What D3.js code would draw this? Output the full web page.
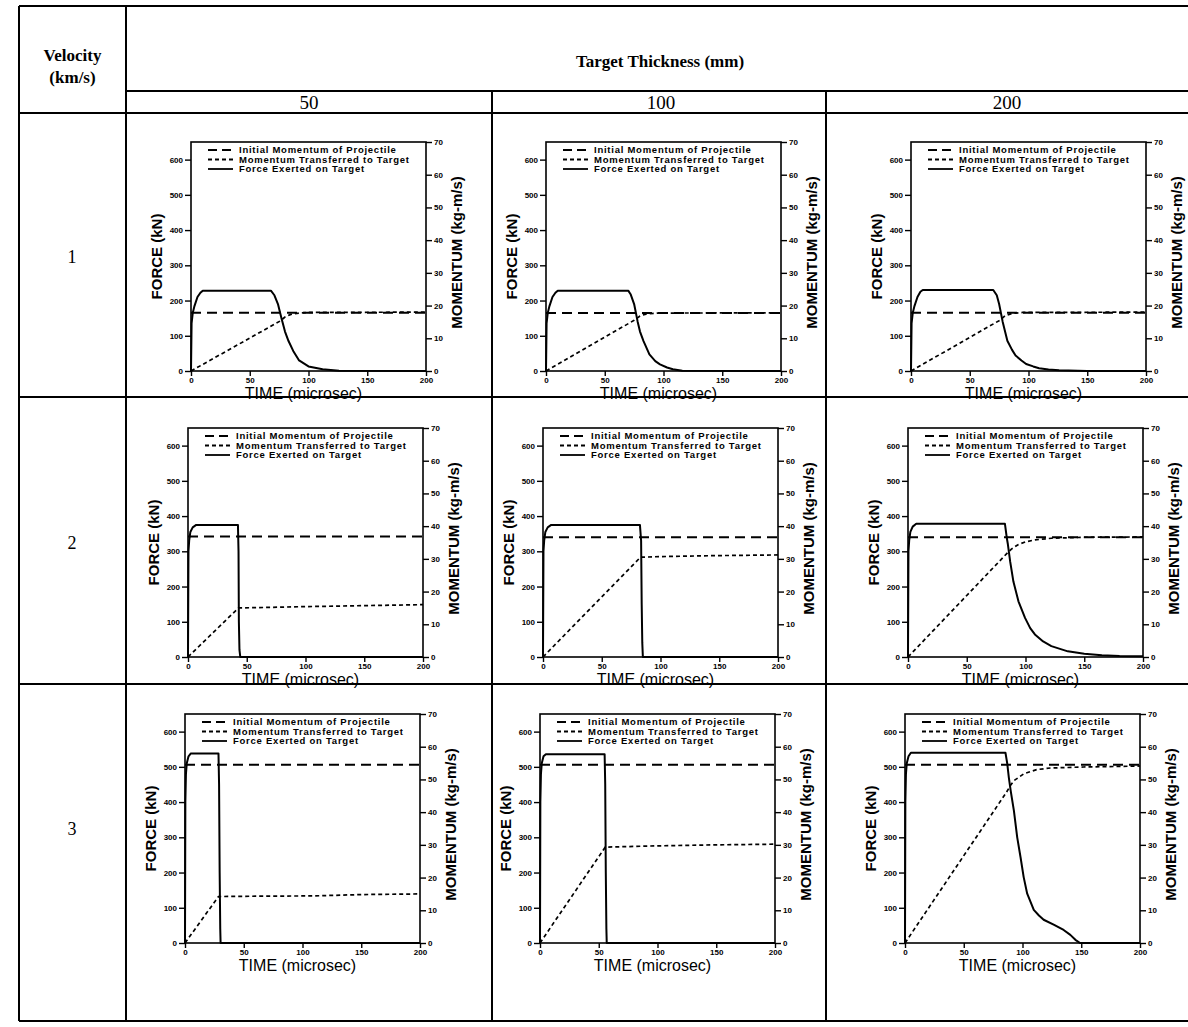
<!DOCTYPE html>
<html>
<head>
<meta charset="utf-8">
<script src="https://cdn.jsdelivr.net/npm/d3@7"></script>
<style>
  body { margin: 0; background: #fff; }
  .tick text { font: bold 8px "Liberation Sans", Arial, sans-serif; }
  .tick line { stroke: #000; stroke-width: 1.4; }
</style>
</head>
<body>
<svg id="chart" width="1188" height="1027"></svg>
<script>
// Table headings
const velocities = ["1", "2", "3"];
const thicknesses = ["50", "100", "200"];

// Axis ticks shared by all nine panels
const forceTicks = [0, 100, 200, 300, 400, 500, 600];
const momentumTicks = [0, 10, 20, 30, 40, 50, 60, 70];
const timeTicks = [0, 50, 100, 150, 200];
const legendLabels = ["Initial Momentum of Projectile", "Momentum Transferred to Target", "Force Exerted on Target"];

// Initial momentum of projectile (kg-m/s), rows = velocity, cols = thickness
const initialMomentum = [
  [17.8, 17.7, 17.8],
  [36.8, 36.6, 36.6],
  [54.5, 54.5, 54.5]
];

// Force exerted on target: [time (microsec), force (kN)]
const force_v1_t50 = [[0, 0], [0.5, 135], [1.5, 165], [3, 185], [5.5, 210], [8, 222], [10, 228], [68, 228], [71, 215], [74, 190], [77, 150], [80, 112], [83, 85], [87, 57], [92, 30], [100, 13], [112, 5], [126, 1], [200, 0]];
const force_v1_t100 = [[0, 0], [0.5, 135], [1.5, 165], [3, 185], [5.5, 210], [8, 222], [10, 228], [70, 228], [72, 218], [75, 190], [78, 140], [80, 112], [83, 85], [88, 47], [93, 28], [97, 19], [103, 10], [108, 5], [116, 1], [200, 0]];
const force_v1_t200 = [[0, 0], [0.5, 135], [1.5, 165], [3, 185], [5.5, 210], [8, 225], [10, 230], [70, 230], [73, 215], [75, 190], [78, 140], [82, 86], [86, 60], [89, 44], [94, 30], [98, 20], [104, 13], [109, 8], [117, 4], [126, 2], [150, 0], [200, 0]];
const force_v2_t50 = [[0, 0], [0.4, 300], [1, 330], [2, 355], [4, 368], [7, 375], [42.5, 375], [43, 300], [43.3, 100], [43.8, 20], [44.5, 0], [200, 0]];
const force_v2_t100 = [[0, 0], [0.4, 300], [1, 330], [2, 355], [4, 368], [7, 375], [82.5, 375], [83.5, 330], [84, 150], [84.5, 40], [85, 0], [200, 0]];
const force_v2_t200 = [[0, 0], [0.4, 300], [1, 330], [2, 355], [4, 370], [7, 378], [82.5, 378], [84, 340], [85, 320], [87, 270], [89.7, 214], [94, 158], [99.6, 111], [104, 82], [108, 64], [115, 44], [122, 31], [136, 16], [150, 9], [165, 5], [180, 3], [200, 2]];
const force_v3_t50 = [[0, 0], [0.3, 400], [0.8, 480], [1.5, 510], [3, 530], [5, 538], [28.5, 538], [29, 450], [29.5, 200], [30, 40], [30.3, 0], [200, 0]];
const force_v3_t100 = [[0, 0], [0.3, 400], [0.8, 480], [1.5, 510], [3, 530], [5, 536], [55, 536], [55.5, 450], [56, 200], [56.5, 40], [56.8, 0], [200, 0]];
const force_v3_t200 = [[0, 0], [0.3, 400], [0.8, 480], [1.5, 510], [3, 530], [5, 540], [85.5, 540], [87, 510], [88.4, 469], [90, 431], [92.7, 375], [95.5, 300], [98.3, 244], [101, 187], [104, 140], [109.6, 94], [114, 78], [118, 66], [126.5, 52], [135, 37], [140.7, 23], [145, 9], [149, 0], [200, 0]];

// Momentum transferred to target: [time (microsec), momentum (kg-m/s)]
const transferred_v1_t50 = [[0, 0], [76, 15.3], [80, 16.5], [85, 17.3], [92, 17.7], [100, 17.9], [200, 18.0]];
const transferred_v1_t100 = [[0, 0], [75, 15.5], [80, 16.8], [85, 17.4], [95, 17.7], [200, 17.8]];
const transferred_v1_t200 = [[0, 0], [76, 15.6], [80, 16.9], [86, 17.6], [95, 17.9], [200, 18.0]];
const transferred_v2_t50 = [[0, 0], [43, 15.0], [60, 15.1], [100, 15.4], [150, 15.7], [200, 16.0]];
const transferred_v2_t100 = [[0, 0], [83, 30.5], [100, 30.7], [150, 31.0], [200, 31.2]];
const transferred_v2_t200 = [[0, 0], [84, 31.6], [88, 33.0], [94, 34.4], [100, 35.2], [108, 35.8], [122, 36.3], [150, 36.6], [200, 36.7]];
const transferred_v3_t50 = [[0, 0], [28.5, 14.2], [60, 14.3], [110, 14.4], [150, 14.8], [200, 15.0]];
const transferred_v3_t100 = [[0, 0], [55.5, 29.3], [100, 29.7], [150, 30.0], [200, 30.2]];
const transferred_v3_t200 = [[0, 0], [86.4, 46.1], [90, 48.3], [93, 49.7], [101, 51.7], [112, 53.0], [124, 53.5], [152, 53.8], [200, 54.1]];

const panels = [
  { row: 0, col: 0, force: force_v1_t50, transferred: transferred_v1_t50 },
  { row: 0, col: 1, force: force_v1_t100, transferred: transferred_v1_t100 },
  { row: 0, col: 2, force: force_v1_t200, transferred: transferred_v1_t200 },
  { row: 1, col: 0, force: force_v2_t50, transferred: transferred_v2_t50 },
  { row: 1, col: 1, force: force_v2_t100, transferred: transferred_v2_t100 },
  { row: 1, col: 2, force: force_v2_t200, transferred: transferred_v2_t200 },
  { row: 2, col: 0, force: force_v3_t50, transferred: transferred_v3_t50 },
  { row: 2, col: 1, force: force_v3_t100, transferred: transferred_v3_t100 },
  { row: 2, col: 2, force: force_v3_t200, transferred: transferred_v3_t200 }
];

// Layout of the table
const tableLeft = 19, tableRight = 1188;
const velDivider = 126;
const colDividers = [492, 826];
const tableTop = 6, subHeadLine = 91, headBottom = 113;
const rowLines = [397, 684, 1021];
const colCenters = [309, 661, 1007];

// Layout of the plots
const colLeft = [188, 543, 908];
const rowShift = [3, 0, -3];
const rowTop = [142, 428, 714];
const plotW = 235, plotH = 229;

const serif = '"Liberation Serif", "Times New Roman", serif';
const sans = '"Liberation Sans", Arial, sans-serif';

const svg = d3.select("#chart");
svg.append("rect").attr("width", 1188).attr("height", 1027).attr("fill", "#fff");

// Grid lines
const grid = svg.append("g").attr("stroke", "#000").attr("stroke-width", 2).attr("fill", "none");
const hLines = [
  [tableLeft, tableRight, tableTop],
  [velDivider, tableRight, subHeadLine],
  [tableLeft, tableRight, headBottom],
  ...rowLines.map(y => [tableLeft, tableRight, y])
];
grid.selectAll("line.h")
  .data(hLines)
  .join("line")
  .attr("class", "h")
  .attr("x1", d => d[0]).attr("x2", d => d[1])
  .attr("y1", d => d[2]).attr("y2", d => d[2]);
const vLines = [
  [tableLeft, tableTop, rowLines[2]],
  [velDivider, tableTop, rowLines[2]],
  ...colDividers.map(x => [x, subHeadLine, rowLines[2]])
];
grid.selectAll("line.v")
  .data(vLines)
  .join("line")
  .attr("class", "v")
  .attr("x1", d => d[0]).attr("x2", d => d[0])
  .attr("y1", d => d[1]).attr("y2", d => d[2]);

// Headings
const head = svg.append("g").attr("fill", "#000").attr("text-anchor", "middle");
head.append("text").attr("x", (tableLeft + velDivider) / 2).attr("y", 61)
  .style("font", `bold 17px ${serif}`).text("Velocity");
head.append("text").attr("x", (tableLeft + velDivider) / 2).attr("y", 83)
  .style("font", `bold 17px ${serif}`).text("(km/s)");
head.append("text").attr("x", 660).attr("y", 67)
  .style("font", `bold 17px ${serif}`).text("Target Thickness (mm)");
head.selectAll("text.col")
  .data(thicknesses)
  .join("text")
  .attr("class", "col")
  .attr("x", (d, i) => colCenters[i])
  .attr("y", 109)
  .style("font", `19px ${serif}`)
  .text(d => d);
head.selectAll("text.row")
  .data(velocities)
  .join("text")
  .attr("class", "row")
  .attr("x", 72)
  .attr("y", (d, i) => rowTop[i] + plotH / 2 + 6)
  .style("font", `18px ${serif}`)
  .text(d => d);

// Panels
const x = d3.scaleLinear().domain([0, 200]).range([0, plotW]);
const yF = d3.scaleLinear().domain([0, 650]).range([plotH, 0]);
const yM = d3.scaleLinear().domain([0, 70]).range([plotH, 0]);

const forceLine = d3.line().x(d => x(d[0])).y(d => yF(d[1]));
const momentumLine = d3.line().x(d => x(d[0])).y(d => yM(d[1]));

const longDash = "10,6";
const shortDash = "4,3";

panels.forEach(p => {
  const g = svg.append("g")
    .attr("transform", `translate(${colLeft[p.col] + rowShift[p.row]},${rowTop[p.row]})`);

  const left = g.append("g")
    .call(d3.axisLeft(yF).tickValues(forceTicks).tickSize(6).tickPadding(2));
  const right = g.append("g")
    .attr("transform", `translate(${plotW},0)`)
    .call(d3.axisRight(yM).tickValues(momentumTicks).tickSize(6).tickPadding(2));
  const bottom = g.append("g")
    .attr("transform", `translate(0,${plotH})`)
    .call(d3.axisBottom(x).tickValues(timeTicks).tickSize(5).tickPadding(1));
  [left, right, bottom].forEach(a => {
    a.select(".domain").remove();
    a.attr("font-family", null).attr("font-size", null);
  });

  g.append("rect")
    .attr("width", plotW).attr("height", plotH)
    .attr("fill", "none").attr("stroke", "#000").attr("stroke-width", 1.6);

  // Series
  g.append("path")
    .datum([[0, initialMomentum[p.row][p.col]], [200, initialMomentum[p.row][p.col]]])
    .attr("d", momentumLine)
    .attr("fill", "none").attr("stroke", "#000").attr("stroke-width", 2)
    .attr("stroke-dasharray", longDash);
  g.append("path")
    .datum(p.transferred)
    .attr("d", momentumLine)
    .attr("fill", "none").attr("stroke", "#000").attr("stroke-width", 1.7)
    .attr("stroke-dasharray", shortDash);
  g.append("path")
    .datum(p.force)
    .attr("d", forceLine)
    .attr("fill", "none").attr("stroke", "#000").attr("stroke-width", 2)
    .attr("stroke-linejoin", "round");

  // Legend
  const legend = g.append("g").attr("transform", "translate(17,8)");
  const dashes = ["9,5", shortDash, null];
  legendLabels.forEach((label, i) => {
    legend.append("line")
      .attr("x1", 0).attr("x2", 25)
      .attr("y1", i * 9.5).attr("y2", i * 9.5)
      .attr("stroke", "#000").attr("stroke-width", 1.8)
      .attr("stroke-dasharray", dashes[i]);
    legend.append("text")
      .attr("x", 31).attr("y", i * 9.5 + 3.3)
      .style("font", `bold 9.5px ${sans}`)
      .style("letter-spacing", "0.75px")
      .text(label);
  });

  // Axis titles
  g.append("text")
    .attr("transform", `translate(-29,${plotH / 2}) rotate(-90)`)
    .attr("text-anchor", "middle")
    .style("font", `bold 15px ${sans}`)
    .text("FORCE (kN)");
  g.append("text")
    .attr("transform", `translate(${plotW + 36},${plotH / 2 - 4}) rotate(-90)`)
    .attr("text-anchor", "middle")
    .style("font", `bold 15px ${sans}`)
    .text("MOMENTUM (kg-m/s)");
  g.append("text")
    .attr("x", plotW / 2 - 5).attr("y", plotH + 28)
    .attr("text-anchor", "middle")
    .style("font", `16px ${sans}`)
    .text("TIME (microsec)");
});
</script>
</body>
</html>
